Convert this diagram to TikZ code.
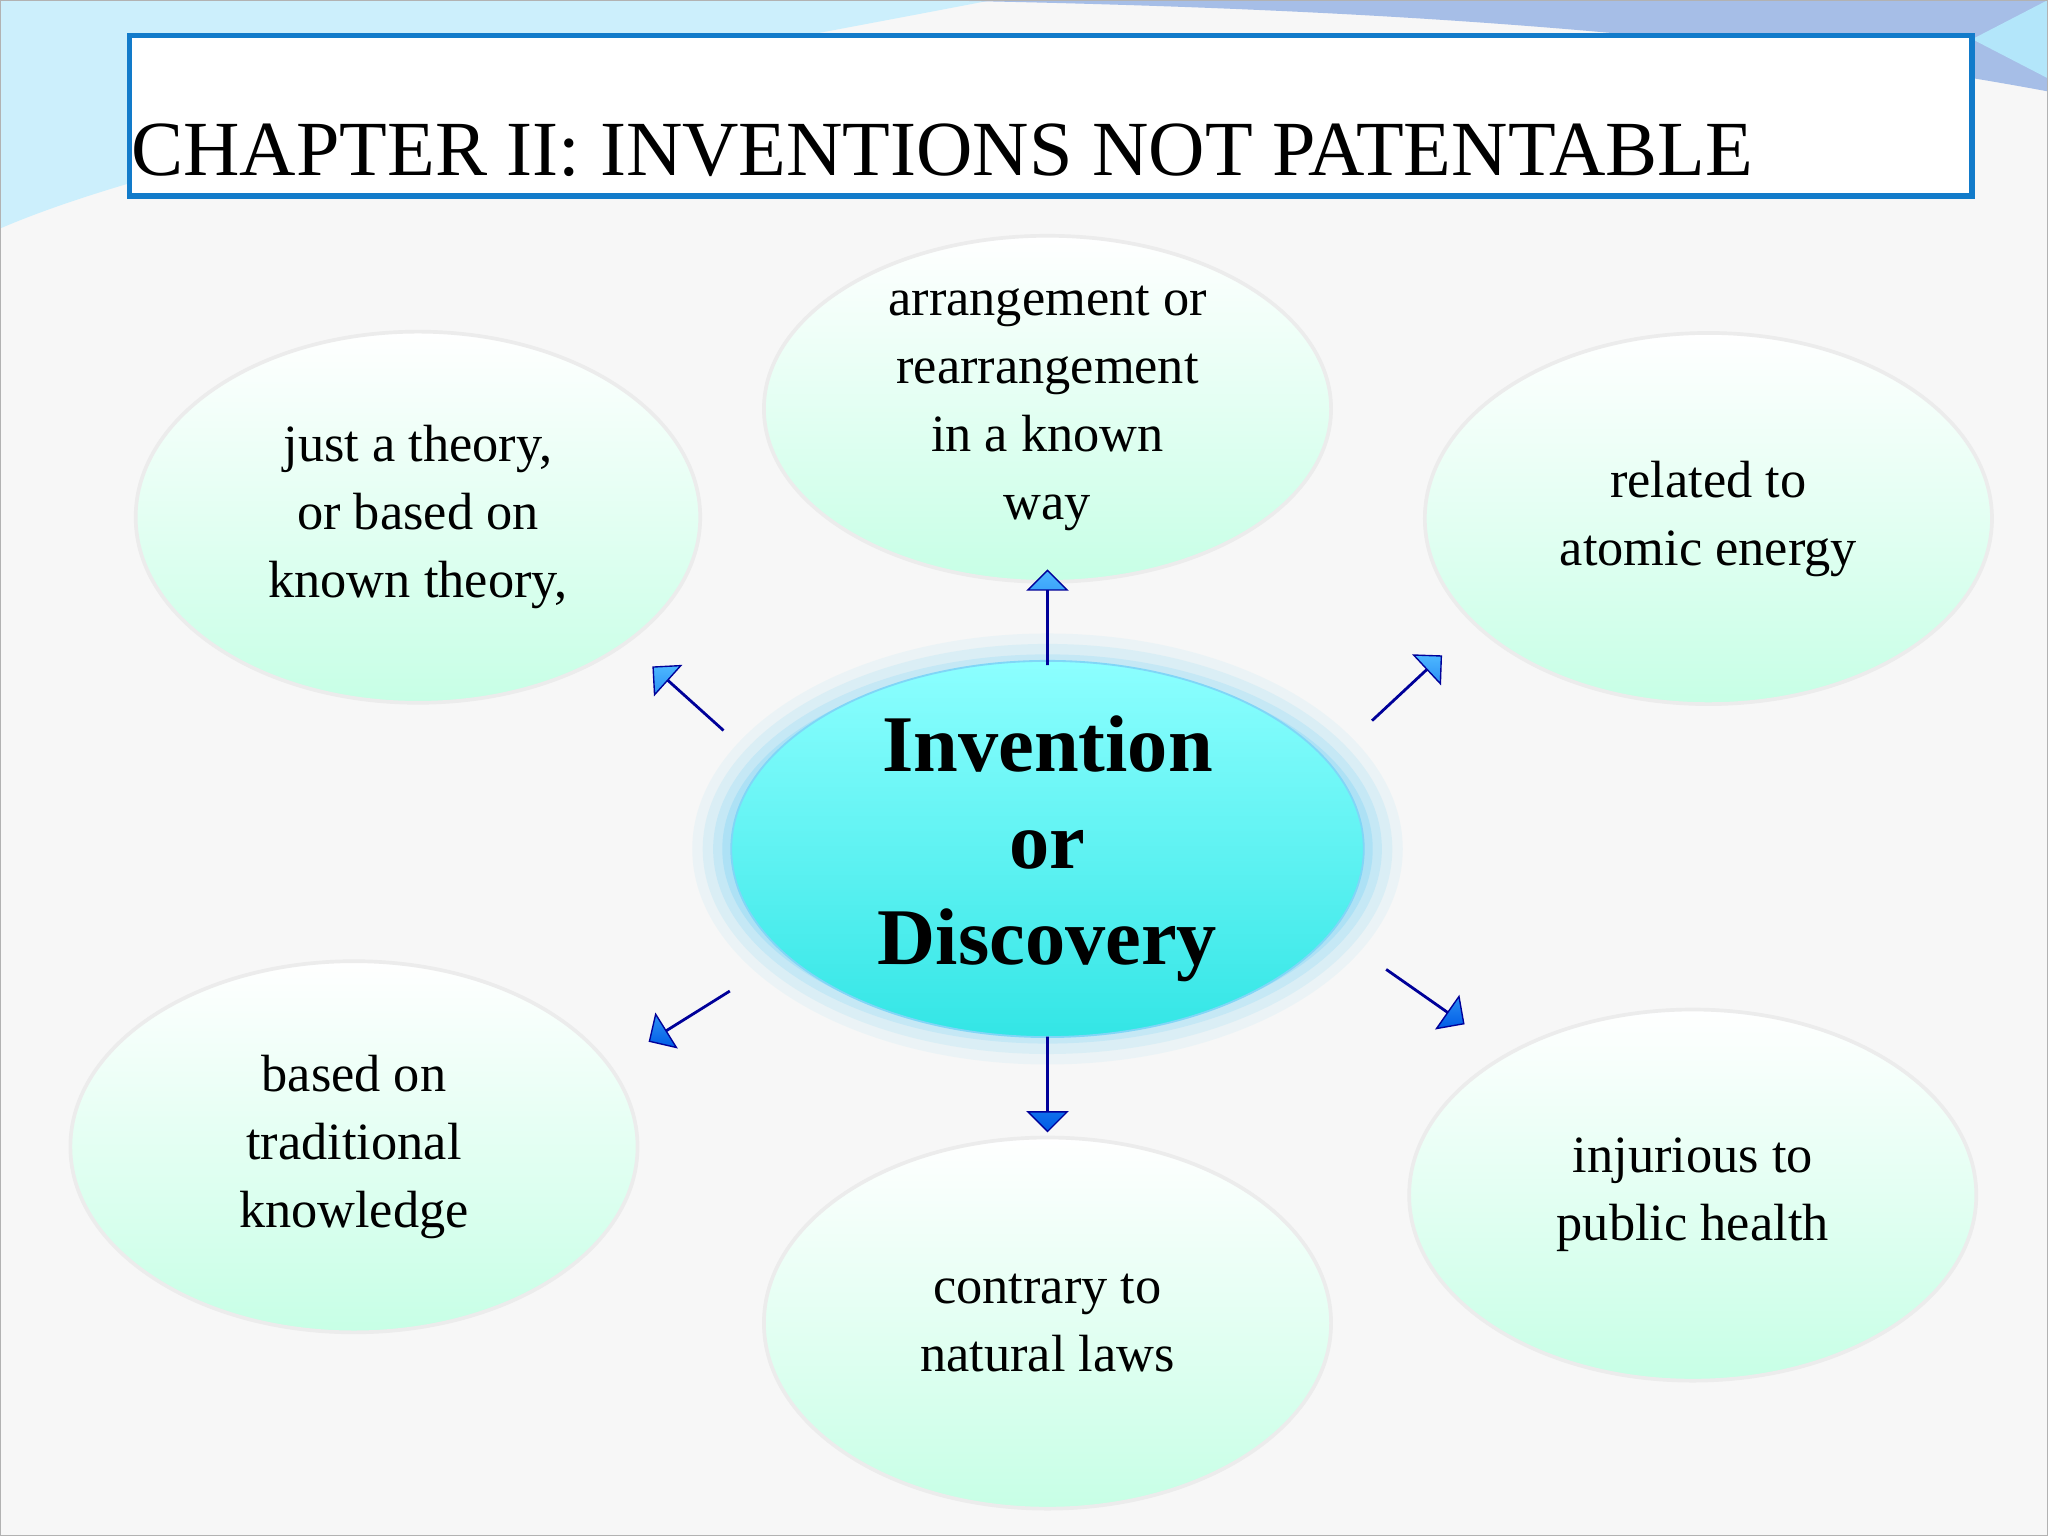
\documentclass[tikz,border=0pt]{standalone}
\usepackage{fontspec}
\setmainfont{Liberation Serif}
\usetikzlibrary{shapes.arrows,shapes.geometric}
\begin{document}
\begin{tikzpicture}[x=0.01cm,y=-0.01cm,
  bub/.style={ellipse,draw=white!85!gray,line width=0.8pt,top color=white,bottom color=green!45!cyan!22,align=center,font=\fontsize{11.4}{14.8}\selectfont,inner sep=0pt},
  barrow/.style={single arrow,draw=blue!60!black,line width=0.3pt,top color=cyan!60!blue!70,bottom color=blue!60!cyan!90!black,minimum height=0.72cm,minimum width=0.3cm,single arrow head extend=0.14cm,inner sep=0pt}]
\useasboundingbox (0,0) rectangle (1568,1176);
\fill[gray!6] (0,0) rectangle (1568,1176);
\fill[cyan!40] (0,0) -- (760,0) .. controls (500,20) and (200,60) .. (0,150) -- cycle;
\fill[cyan!20] (0,0) -- (760,0) .. controls (500,50) and (150,110) .. (0,175) -- cycle;
\fill[cyan!50!blue!35] (700,0) -- (1568,0) -- (1568,70) .. controls (1300,20) and (1000,5) .. (700,0) -- cycle;
\fill[cyan!30] (1510,30) -- (1568,0) -- (1568,60) -- cycle;
\draw[gray!60] (0,0) rectangle (1568,1176);
\node[draw=cyan!60!blue,line width=1.2pt,fill=white,minimum width=14.1cm,minimum height=1.23cm,anchor=north west,inner sep=0pt] (title) at (97,25) {};
\node[anchor=base west,font=\fontsize{17}{20}\selectfont,inner sep=0pt] (tt) at (100,134) {CHAPTER II: INVENTIONS NOT PATENTABLE};
% center glow
\foreach \r/\o in {30/0.08,22/0.12,14/0.18,7/0.25}
  \fill[cyan!60,opacity=\o] (802,650) ellipse ({(242+\r)*0.01cm} and {(135+\r)*0.01cm});
\node[ellipse,minimum width=4.84cm,minimum height=2.7cm,inner sep=0pt,draw=cyan!50,top color=cyan!45,bottom color=cyan!75!teal!80,align=center,font=\bfseries\fontsize{17.5}{21}\selectfont] (c) at (802,650) {Invention\\or\\Discovery};
\node[bub,minimum width=4.34cm,minimum height=2.56cm] (t) at (802,313) {arrangement or\\rearrangement\\in a known\\way};
\node[bub,minimum width=4.32cm,minimum height=2.84cm] (lt) at (320,396) {just a theory,\\or based on\\known theory,};
\node[bub,minimum width=4.34cm,minimum height=2.84cm] (rt) at (1308,397) {related to\\atomic energy};
\node[bub,minimum width=4.34cm,minimum height=2.84cm] (lb) at (271,878) {based on\\traditional\\knowledge};
\node[bub,minimum width=4.34cm,minimum height=2.84cm] (b) at (802,1013) {contrary to\\natural laws};
\node[bub,minimum width=4.34cm,minimum height=2.84cm] (rb) at (1296,915) {injurious to\\public health};
\node[barrow,rotate=90] (a1) at (802,473) {};
\node[barrow,rotate=-90] (a2) at (802,830) {};
\node[barrow,rotate=138] (a3) at (527,535) {};
\node[barrow,rotate=43] (a4) at (1077,527) {};
\node[barrow,rotate=-148] (a5) at (528,778) {};
\node[barrow,rotate=-35] (a6) at (1091,763) {};
\end{tikzpicture}
\end{document}
